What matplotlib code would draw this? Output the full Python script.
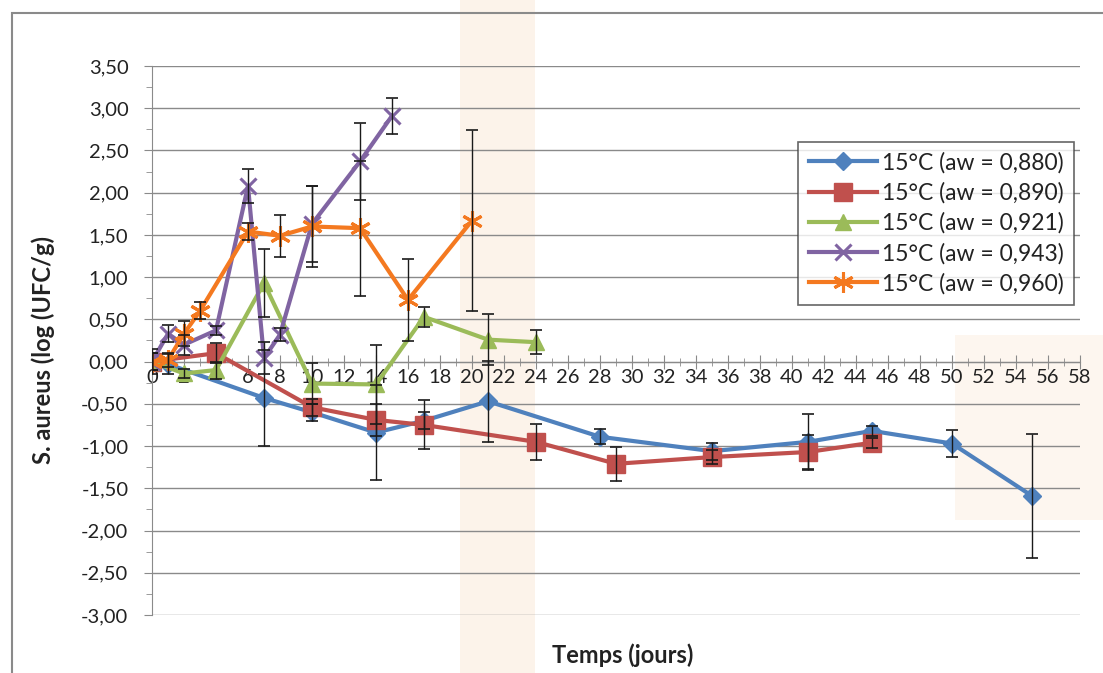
import matplotlib
matplotlib.use("Agg")
import matplotlib.pyplot as plt
import matplotlib.ticker as mticker
from matplotlib.patches import Rectangle

plt.rcParams['font.family'] = ['Lato', 'DejaVu Sans']

labels = ["15°C (aw = 0,880)", "15°C (aw = 0,890)", "15°C (aw = 0,921)",
          "15°C (aw = 0,943)", "15°C (aw = 0,960)"]

x_880 = [0, 1, 7, 10, 14, 17, 21, 28, 35, 41, 45, 50, 55]
y_880 = [0.00, -0.03, -0.43, -0.60, -0.84, -0.70, -0.47, -0.89, -1.06, -0.95, -0.82, -0.97, -1.59]
e_880 = [0.10, 0.12, 0.57, 0.10, 0.56, 0.10, 0.48, 0.09, 0.10, 0.33, 0.06, 0.16, 0.73]

x_890 = [0, 4, 10, 14, 17, 24, 29, 35, 41, 45]
y_890 = [0.00, 0.10, -0.54, -0.69, -0.75, -0.95, -1.21, -1.13, -1.07, -0.96]
e_890 = [0.15, 0.12, 0.10, 0.19, 0.29, 0.21, 0.20, 0.08, 0.20, 0.06]

x_921 = [0, 2, 4, 7, 10, 14, 17, 21, 24]
y_921 = [0.00, -0.14, -0.10, 0.93, -0.26, -0.27, 0.53, 0.26, 0.23]
e_921 = [0.10, 0.05, 0.10, 0.40, 0.24, 0.47, 0.12, 0.30, 0.14]

x_943 = [0, 1, 2, 4, 6, 7, 8, 10, 13, 15]
y_943 = [0.00, 0.33, 0.20, 0.37, 2.08, 0.04, 0.32, 1.63, 2.37, 2.91]
e_943 = [0.10, 0.10, 0.12, 0.05, 0.20, 0.19, 0.08, 0.45, 0.46, 0.21]

x_960 = [0, 1, 2, 3, 6, 8, 10, 13, 16, 20]
y_960 = [0.00, 0.02, 0.33, 0.60, 1.54, 1.49, 1.60, 1.58, 0.73, 1.67]
e_960 = [0.10, 0.08, 0.15, 0.10, 0.10, 0.25, 0.48, 0.80, 0.49, 1.07]

series = [
    (x_880, y_880, e_880, '#4F81BD', 'D', 9),
    (x_890, y_890, e_890, '#C0504D', 's', 13),
    (x_921, y_921, e_921, '#9BBB59', '^', 12),
    (x_943, y_943, e_943, '#8064A2', 'x', 12),
    (x_960, y_960, e_960, '#F47920', (6, 2, 0), 15),
]

fig = plt.figure(figsize=(11.03, 6.73), dpi=100)

# faint background from the scanned page
fig.patches.append(Rectangle((460 / 1103, 0), 75 / 1103, 1, transform=fig.transFigure,
                             facecolor='#FCF3EA', edgecolor='none', zorder=-10))
fig.patches.append(Rectangle((955 / 1103, 1 - 520 / 673), 150 / 1103, 185 / 673,
                             transform=fig.transFigure, facecolor='#FDF6EF',
                             edgecolor='none', zorder=-10))
fig.patches.append(Rectangle((12 / 1103, -0.05), 1.0, 1 - 13 / 673 + 0.05,
                             transform=fig.transFigure, facecolor='none',
                             edgecolor='#8a8a8a', lw=1.5, zorder=-5))

ax = fig.add_axes([152 / 1103, 1 - 615 / 673, 928 / 1103, 549 / 673])
ax.set_facecolor('none')

for (xs, ys, es, c, m, ms), lab in zip(series, labels):
    ax.plot(xs, ys, color=c, lw=3, marker=m, markersize=ms,
            markeredgewidth=2.2 if m in ('x', (6, 2, 0)) else 1,
            markeredgecolor=c, label=lab, zorder=3)
    ax.errorbar(xs, ys, yerr=es, fmt='none', ecolor='#1a1a1a', elinewidth=1,
                capsize=4.5, capthick=1.2, zorder=4)

ax.set_xlim(0, 58)
ax.set_ylim(-3, 3.5)
ax.xaxis.set_major_locator(mticker.MultipleLocator(2))
ax.xaxis.set_minor_locator(mticker.MultipleLocator(1))
ax.yaxis.set_major_locator(mticker.MultipleLocator(0.5))
ax.yaxis.set_minor_locator(mticker.MultipleLocator(0.25))
ax.yaxis.set_major_formatter(mticker.FuncFormatter(lambda v, p: f"{v:.2f}".replace('.', ',')))

ax.spines['top'].set_visible(False)
ax.spines['right'].set_visible(False)
ax.spines['bottom'].set_position(('data', 0))
ax.spines['bottom'].set_color('#8a8a8a')
ax.spines['left'].set_color('#8a8a8a')
ax.grid(axis='y', which='major', color='#8a8a8a', lw=1)
ax.set_axisbelow(True)

ax.tick_params(axis='x', which='major', direction='inout', length=10, color='#8a8a8a',
               labelsize=14.5, pad=0, labelcolor='#222222')
ax.tick_params(axis='x', which='minor', direction='inout', length=6, color='#8a8a8a')
ax.tick_params(axis='y', which='major', direction='out', length=6, color='#8a8a8a',
               labelsize=14.5, labelcolor='#222222', pad=11)
ax.tick_params(axis='y', which='minor', direction='out', length=4, color='#8a8a8a')

ax.set_ylabel("S. aureus (log (UFC/g)", fontsize=17, fontweight='bold', color='#222222')
ax.yaxis.set_label_coords(-0.104, 0.483)
fig.text(623 / 1103, 1 - 655 / 673, "Temps (jours)", fontsize=17, fontweight='bold',
         color='#222222', ha='center', va='center')

leg = ax.legend(loc='upper left', bbox_to_anchor=(0.684, 0.883), fontsize=16.5,
                frameon=True, fancybox=False, edgecolor='#404040', handlelength=3.0,
                borderpad=0.45, labelspacing=0.38, handletextpad=0.2)
leg.get_frame().set_linewidth(1.2)
for t in leg.get_texts():
    t.set_color('#222222')

fig.savefig("out.png", dpi=100)
